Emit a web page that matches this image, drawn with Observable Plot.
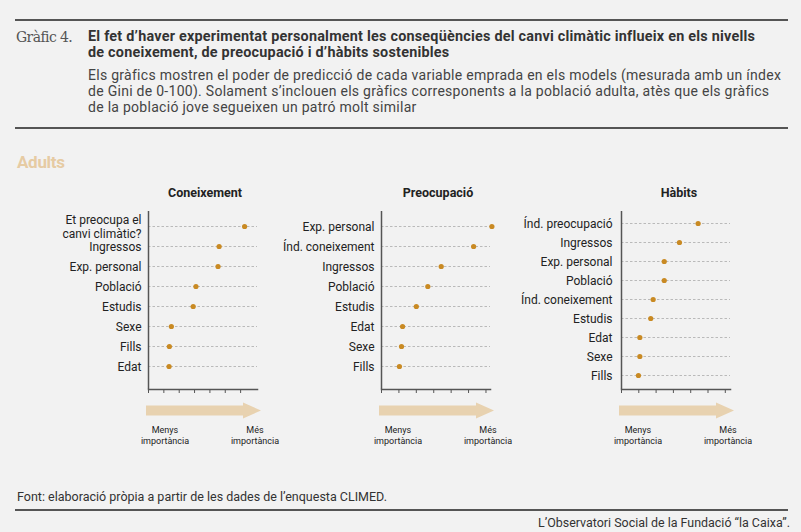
<!DOCTYPE html>
<html><head><meta charset="utf-8">
<script src="https://cdn.jsdelivr.net/npm/d3@7"></script>
<script src="https://cdn.jsdelivr.net/npm/@observablehq/plot@0.6"></script>
<style>
body{margin:0;background:#f2f2f2;}
#wrap{position:relative;width:801px;height:532px;background:#f2f2f2;font-family:Roboto,sans-serif;color:#222;overflow:hidden}
.abs{position:absolute;white-space:nowrap}
.rule{position:absolute;left:15px;width:773px;height:2px;background:#555}
</style></head><body>
<div id="wrap">
  <div class="rule" style="top:19px"></div>
  <div class="abs" style="left:16px;top:29px;font-family:'DejaVu Serif';font-size:14px;color:#555;letter-spacing:-0.6px">Gràfic 4.</div>
  <div class="abs" style="left:88px;top:29px;font-size:14.4px;line-height:16px;font-weight:bold;color:#333;letter-spacing:0.22px">El fet d’haver experimentat personalment les conseqüències del canvi climàtic influeix en els nivells<br>de coneixement, de preocupació i d’hàbits sostenibles</div>
  <div class="abs" style="left:88px;top:67px;font-size:14px;line-height:16px;color:#444;letter-spacing:0.28px">Els gràfics mostren el poder de predicció de cada variable emprada en els models (mesurada amb un índex<br>de Gini de 0-100). Solament s’inclouen els gràfics corresponents a la població adulta, atès que els gràfics<br>de la població jove segueixen un patró molt similar</div>
  <div class="rule" style="top:127px"></div>
  <div class="abs" style="left:17px;top:152px;font-size:17px;font-weight:bold;color:#e6cba3;letter-spacing:-0.3px">Adults</div>
  <div class="abs" style="left:17px;top:489px;font-size:12.5px;color:#333">Font: elaboració pròpia a partir de les dades de l’enquesta CLIMED.</div>
  <div class="rule" style="top:509px"></div>
  <div class="abs" style="right:11px;top:515px;font-size:12.45px;color:#333">L’Observatori Social de la Fundació “la Caixa”.</div>
</div>
<script>
const coneixementCats = ["Et preocupa el canvi climàtic?","Ingressos","Exp. personal","Població","Estudis","Sexe","Fills","Edat"];
const coneixementVals = [62.6,46.0,45.3,30.9,29.1,14.9,13.6,13.4];
const preocupacioCats = ["Exp. personal","Índ. coneixement","Ingressos","Població","Estudis","Edat","Sexe","Fills"];
const preocupacioVals = [63.4,52.9,34.3,26.6,20.0,12.1,11.5,10.3];
const habitsCats = ["Índ. preocupació","Ingressos","Exp. personal","Població","Índ. coneixement","Estudis","Edat","Sexe","Fills"];
const habitsVals = [44.3,33.5,24.7,24.7,18.3,16.9,10.6,10.6,9.8];
const xTicks = [0,10,20,30,40,50,60];
const panelTitles = ["Coneixement","Preocupació","Hàbits"];
const lowLabel = ["Menys","importància"];
const highLabel = ["Més","importància"];

const wrapLabel = d => d === "Et preocupa el canvi climàtic?" ? "Et preocupa el\ncanvi climàtic?" : d;

const TOP = 170;
const panels = [
  {title: panelTitles[0], cats: coneixementCats, vals: coneixementVals, left: 0, width: 270, ml: 148, xmax: 71, yr: [223.3, 368], pad: 7, tdx: 2},
  {title: panelTitles[1], cats: preocupacioCats, vals: preocupacioVals, left: 270, width: 240, ml: 111, xmax: 62.6, yr: [223.3, 368], pad: 7, tdx: 2},
  {title: panelTitles[2], cats: habitsCats, vals: habitsVals, left: 510, width: 291, ml: 111, xmax: 63, yr: [222.3, 376], pad: 9, tdx: 3}
];

const wrap = document.getElementById("wrap");
for (const cfg of panels) {
  const data = cfg.cats.map((c, i) => ({cat: c, val: cfg.vals[i]}));
  const plot = Plot.plot({
    width: cfg.width, height: 280,
    marginLeft: cfg.ml, marginRight: cfg.width - cfg.ml - 109, marginTop: 211 - TOP, marginBottom: TOP + 280 - 389,
    style: {background: "transparent", fontFamily: "Roboto, sans-serif", overflow: "visible"},
    x: {domain: [0, cfg.xmax], label: null},
    y: {type: "point", domain: cfg.cats, range: cfg.yr.map(v => v - TOP), padding: 0, label: null},
    marks: [
      Plot.gridY({stroke: "#9a9a9a", strokeOpacity: 0.8, strokeDasharray: "2.5,2", strokeWidth: 0.8}),
      Plot.ruleX([0], {stroke: "#555", strokeWidth: 1.5}),
      Plot.frame({anchor: "bottom", stroke: "#555", strokeWidth: 1.5}),
      Plot.axisX({ticks: xTicks, tickSize: 4, tickFormat: () => "", stroke: "#555", strokeWidth: 1, label: null}),
      Plot.axisY({tickSize: 0, tickPadding: cfg.pad, fontSize: 12, tickFormat: wrapLabel, lineHeight: 1.15, fill: "#222", label: null}),
      Plot.dot(data, {x: "val", y: "cat", r: 2.6, fill: "#c98a23"}),
      Plot.text([cfg.title], {frameAnchor: "top", lineAnchor: "middle", dy: -18.5, dx: cfg.tdx, fontWeight: "bold", fontSize: 12.5, fill: "#222"})
    ]
  });
  plot.style.position = "absolute";
  plot.style.left = cfg.left + "px";
  plot.style.top = TOP + "px";
  const sx = plot.scale("x");
  const x0 = sx.apply(0) - 2, x1 = sx.apply(cfg.xmax) + 4;
  const cy = 410.5 - TOP, hl = 18;
  const pts = [[x0, cy - 5], [x1 - hl, cy - 5], [x1 - hl, cy - 8], [x1, cy], [x1 - hl, cy + 8], [x1 - hl, cy + 5], [x0, cy + 5]];
  const svg = d3.select(plot);
  svg.append("polygon").attr("points", pts.map(p => p.join(",")).join(" ")).attr("fill", "#e8d2b0");
  const lbl = (x, lines) => {
    const t = svg.append("text").attr("text-anchor", "middle").attr("font-size", 9).attr("fill", "#222").attr("font-family", "Roboto, sans-serif");
    lines.forEach((l, i) => t.append("tspan").attr("x", x).attr("y", 433 - TOP + i * 11).text(l));
  };
  lbl(sx.apply(0) + 17, lowLabel);
  lbl(x1 - 6, highLabel);
  wrap.appendChild(plot);
}
</script>
</body></html>
